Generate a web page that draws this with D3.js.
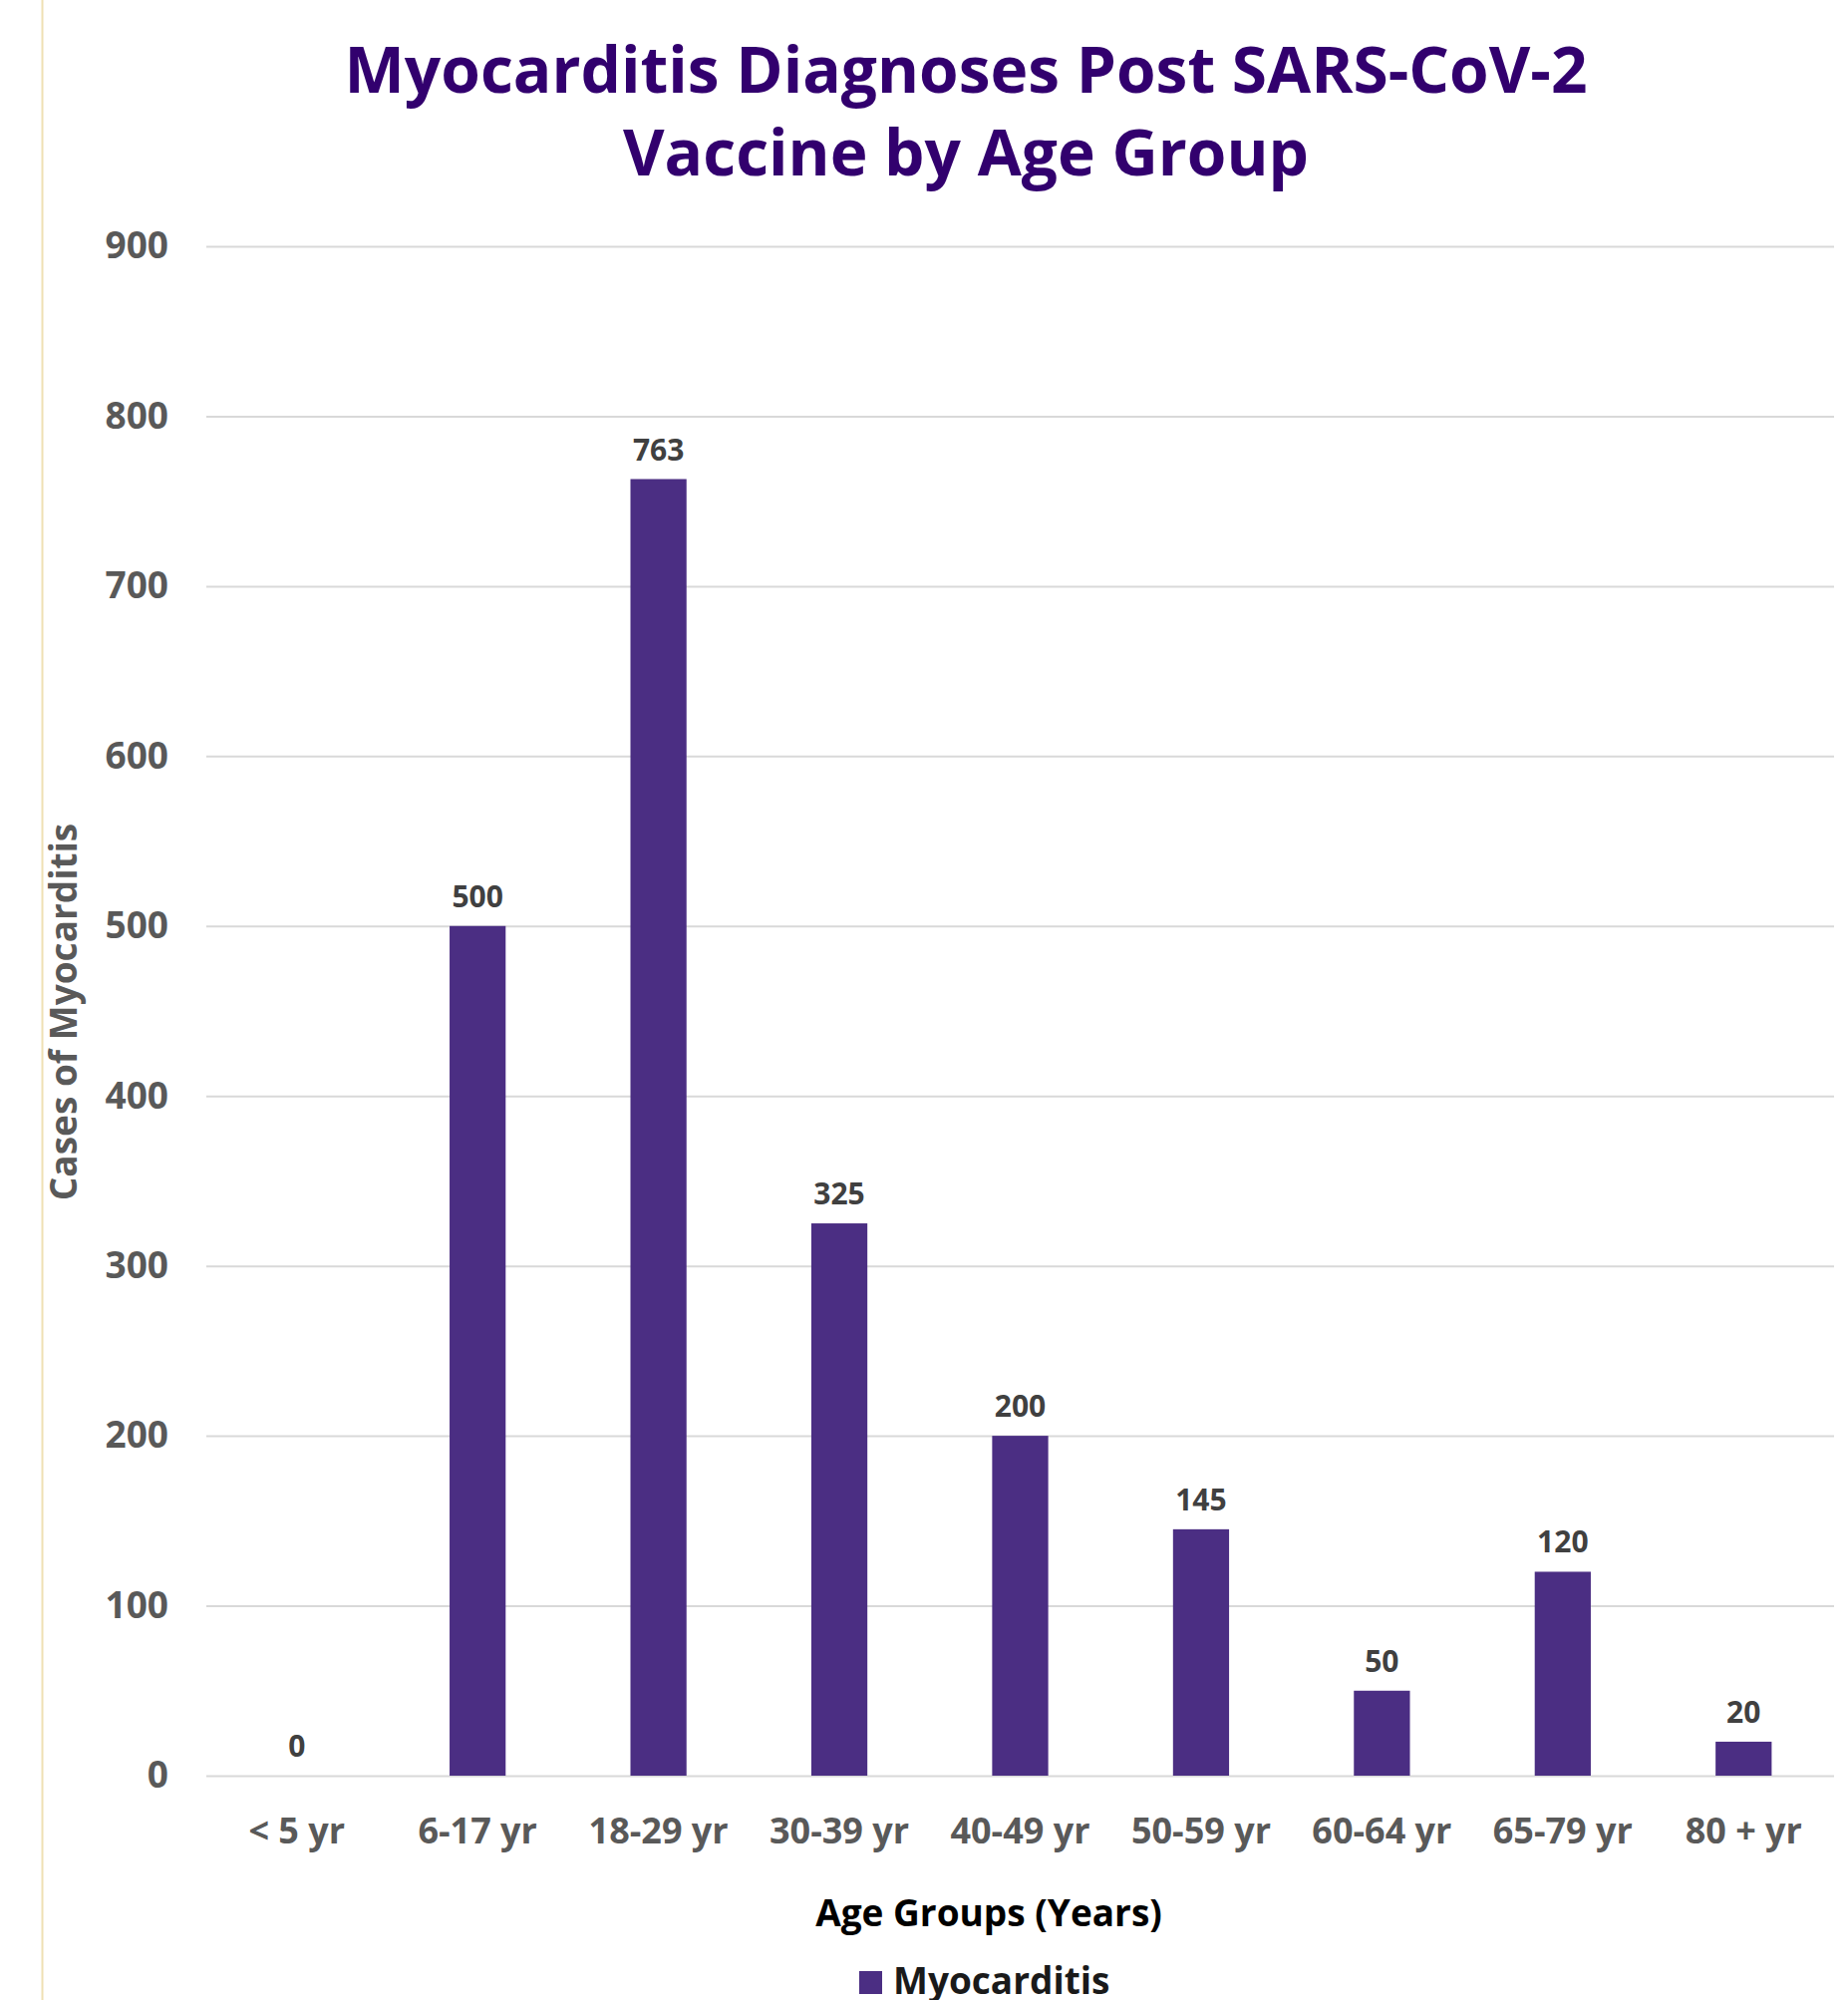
<!DOCTYPE html>
<html>
<head>
<meta charset="utf-8">
<script src="https://cdn.jsdelivr.net/npm/d3@7"></script>
<style>
    body { margin: 0; background: #ffffff; }
    svg { display: block; font-family: "Open Sans", sans-serif; }
</style>
</head>
<body>
<div id="chart"></div>
<script>
// Age groups along the x axis.
const ageGroups = ["< 5 yr", "6-17 yr", "18-29 yr", "30-39 yr", "40-49 yr",
    "50-59 yr", "60-64 yr", "65-79 yr", "80 + yr"];

// Cases of myocarditis for each age group.
const myocarditisCases = [0, 500, 763, 325, 200, 145, 50, 120, 20];

// Y axis ticks.
const yTicks = [0, 100, 200, 300, 400, 500, 600, 700, 800, 900];

const titleLines = ["Myocarditis Diagnoses Post SARS-CoV-2", "Vaccine by Age Group"];
const seriesName = "Myocarditis";

function drawChart() {
    /*
    Draws the bar chart into #chart.
    */

    let width = 1854;
    let height = 2006;

    let svg = d3.select("#chart").append("svg")
        .attr("width", width)
        .attr("height", height);

    // Thin tan rule on the left edge of the page.
    svg.append("line")
        .attr("x1", 42.5).attr("x2", 42.5)
        .attr("y1", 0).attr("y2", height)
        .attr("stroke", "#efe0b4")
        .attr("stroke-width", 2);

    // Plot area.
    let left = 207, right = 1840, top = 247, bottom = 1781;

    let x = d3.scaleBand()
        .domain(ageGroups)
        .range([left, right])
        .paddingInner(0.69)
        .paddingOuter(0.345);

    let y = d3.scaleLinear()
        .domain([0, 900])
        .range([bottom, top]);

    // Title.
    svg.append("text")
        .attr("x", 969)
        .attr("y", 93)
        .attr("text-anchor", "middle")
        .attr("font-size", 64)
        .attr("font-weight", 700)
        .attr("fill", "#32006e")
        .selectAll("tspan")
        .data(titleLines)
        .join("tspan")
        .attr("x", 969)
        .attr("dy", (d, i) => i === 0 ? 0 : 83)
        .text(d => d);

    // Gridlines and y tick labels.
    let yAxis = svg.append("g")
        .attr("transform", "translate(" + left + ",0)")
        .call(d3.axisLeft(y).tickValues(yTicks).tickSize(-(right - left)).tickPadding(38));

    yAxis.select(".domain").remove();
    yAxis.selectAll(".tick line")
        .attr("stroke", "#d9d9d9")
        .attr("stroke-width", 2);
    yAxis.selectAll(".tick text")
        .attr("font-family", "Open Sans")
        .attr("font-size", 37)
        .attr("font-weight", 700)
        .attr("fill", "#595959");

    // X tick labels.
    let xAxis = svg.append("g")
        .attr("transform", "translate(0," + bottom + ")")
        .call(d3.axisBottom(x).tickSize(0).tickPadding(42));

    xAxis.select(".domain").remove();
    xAxis.selectAll(".tick text")
        .attr("font-family", "Open Sans")
        .attr("font-size", 36)
        .attr("font-weight", 700)
        .attr("fill", "#595959");

    // Bars.
    let rows = ageGroups.map((g, i) => ({group: g, value: myocarditisCases[i]}));

    svg.append("g")
        .selectAll("rect")
        .data(rows)
        .join("rect")
        .attr("x", d => x(d.group))
        .attr("y", d => y(d.value))
        .attr("width", x.bandwidth())
        .attr("height", d => y(0) - y(d.value))
        .attr("fill", "#4b2e83");

    // Value labels above the bars.
    svg.append("g")
        .selectAll("text")
        .data(rows)
        .join("text")
        .attr("x", d => x(d.group) + x.bandwidth() / 2)
        .attr("y", d => y(d.value) - 19)
        .attr("text-anchor", "middle")
        .attr("font-size", 30)
        .attr("font-weight", 700)
        .attr("fill", "#404040")
        .text(d => d.value);

    // Axis titles.
    svg.append("text")
        .attr("transform", "translate(77,1015) rotate(-90)")
        .attr("text-anchor", "middle")
        .attr("font-size", 37)
        .attr("font-weight", 700)
        .attr("fill", "#595959")
        .text("Cases of Myocarditis");

    svg.append("text")
        .attr("x", 992)
        .attr("y", 1932)
        .attr("text-anchor", "middle")
        .attr("font-size", 37)
        .attr("font-weight", 700)
        .attr("fill", "#000000")
        .text("Age Groups (Years)");

    // Legend.
    let legend = svg.append("g");
    legend.append("rect")
        .attr("x", 862).attr("y", 1977)
        .attr("width", 23).attr("height", 23)
        .attr("fill", "#4b2e83");
    legend.append("text")
        .attr("x", 896)
        .attr("y", 2000)
        .attr("font-size", 37)
        .attr("font-weight", 700)
        .attr("fill", "#1a1a1a")
        .text(seriesName);
}

drawChart();
</script>
</body>
</html>
